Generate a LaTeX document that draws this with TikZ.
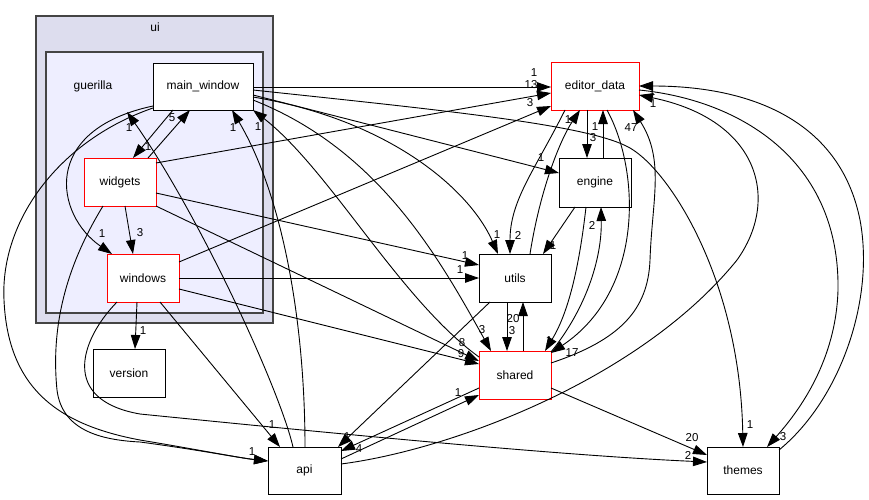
\documentclass[tikz,border=0pt]{standalone}
\usepackage{fontspec}
\setmainfont{Liberation Sans}
\usetikzlibrary{arrows.meta}
\definecolor{uifill}{HTML}{DDDDEE}
\definecolor{gufill}{HTML}{EEEEFF}
\definecolor{clborder}{HTML}{444444}
\begin{document}
\begin{tikzpicture}[x=1pt,y=-1pt,
  box/.style={draw=black,fill=white,line width=0.9pt,minimum width=72pt,minimum height=48pt,inner sep=0pt,font=\fontsize{12}{14}\selectfont},
  redbox/.style={box,draw=red},
  dep/.style={line width=0.9pt,-{Triangle[length=14pt,width=9.5pt]}},
  lbl/.style={font=\fontsize{11.5}{12}\selectfont,inner sep=0pt},
  cl/.style={draw=clborder,line width=1.3pt},
  cltext/.style={font=\fontsize{12}{14}\selectfont,inner sep=0pt}]
\useasboundingbox (0,0) rectangle (869,500);
\fill[white] (0,0) rectangle (869,500);
\draw[cl,fill=uifill] (36,16) rectangle (273,323);
\node[cltext] (uilbl) at (155,27) {ui};
\draw[cl,fill=gufill] (46,52) rectangle (263,313);
\node[cltext] (gulbl) at (93,86) {guerilla};
% nodes
\node[box,minimum width=100pt,minimum height=47pt] (mw) at (203,86.5) {main\_window};
\node[redbox] (wid) at (120,182) {widgets};
\node[redbox] (win) at (143,278) {windows};
\node[box] (ver) at (129,373) {version};
\node[redbox,minimum width=88pt] (ed) at (595,86) {editor\_data};
\node[box,minimum height=49pt] (eng) at (595,182.5) {engine};
\node[box] (ut) at (515,278) {utils};
\node[redbox] (sh) at (515,375) {shared};
\node[box,minimum width=73pt,minimum height=47pt] (api) at (304.5,470.5) {api};
\node[box,minimum height=47pt] (th) at (743,470.5) {themes};
\coordinate (gtip) at (127,112);
% edges into editor_data from the left
\draw[dep] ([shift={(50,0.5)}]mw.center) -- ([shift={(-44,1)}]ed.center) node[lbl] at (534,73) {1};
\draw[dep] ([shift={(36,-19)}]wid.center) -- ([shift={(-44,7)}]ed.center) node[lbl] at (531,85) {13};
\draw[dep] ([shift={(36,-16)}]win.center) -- ([shift={(-44,20)}]ed.center) node[lbl] at (530,103) {3};
% main_window out
\draw[dep] ([shift={(50,8.5)}]mw.center) -- ([shift={(-36,-9.5)}]eng.center) node[lbl] at (541,158) {1};
\draw[dep] ([shift={(50,10.5)}]mw.center) .. controls (390,120) and (470,190) .. ([shift={(-17,-24)}]ut.center) node[lbl] at (497,235) {1};
\draw[dep] ([shift={(50,13.5)}]mw.center) .. controls (380,150) and (440,260) .. ([shift={(-24,-24)}]sh.center) node[lbl] at (482,330) {3};
\draw[dep] ([shift={(50,3.5)}]mw.center) .. controls (450,111) and (590,125) .. (630,148) .. controls (670,171) and (740,280) .. ([shift={(0,-23.5)}]th.center) node[lbl] at (750,425) {1};
\draw[dep] ([shift={(-50,19.5)}]mw.center) .. controls (40,130) and (55,215) .. ([shift={(-31,-24)}]win.center) node[lbl] at (102,234) {1};
\draw[dep] ([shift={(-50,21.5)}]mw.center) .. controls (60,140) and (0,220) .. (4,300) .. controls (8,390) and (60,425) .. (140,440) .. controls (200,450) and (240,458) .. ([shift={(-36.5,-9.5)}]api.center) node[lbl] at (252,452) {1};
\draw[dep] ([shift={(-30,23.5)}]mw.center) -- ([shift={(13,-24)}]wid.center) node[lbl] at (148,147) {1};
% into main_window
\draw[dep] ([shift={(28,-24)}]wid.center) -- ([shift={(-13,23.5)}]mw.center) node[lbl] at (172,118) {5};
\draw[dep] ([shift={(-36,-18)}]sh.center) .. controls (400,300) and (330,170) .. ([shift={(50,23.5)}]mw.center) node[lbl] at (258,127) {1};
\draw[dep] ([shift={(0.5,-23.5)}]api.center) .. controls (305,330) and (285,200) .. ([shift={(29,23.5)}]mw.center) node[lbl] at (233,128) {1};
\draw[dep] ([shift={(-11.5,-23.5)}]api.center) .. controls (280,390) and (200,216) .. (gtip) node[lbl] at (129,128) {1};
% widgets out
\draw[dep] ([shift={(-17,24)}]wid.center) .. controls (70,260) and (50,320) .. (57,390) .. controls (62,430) and (100,440) .. (140,442) .. controls (200,450) and (240,458) .. ([shift={(-36.5,-9.5)}]api.center);
\draw[dep] ([shift={(5,24)}]wid.center) -- ([shift={(-10,-24)}]win.center) node[lbl] at (140,233) {3};
\draw[dep] ([shift={(36,11)}]wid.center) -- ([shift={(-36,-13)}]ut.center) node[lbl] at (465,256) {1};
\draw[dep] ([shift={(36,24)}]wid.center) -- ([shift={(-36,-14)}]sh.center) node[lbl] at (462,343) {8};
% windows out
\draw[dep] ([shift={(-26,24)}]win.center) .. controls (80,340) and (60,400) .. (140,414) .. controls (300,430) and (550,455) .. ([shift={(-36,-8.5)}]th.center) node[lbl] at (688,455) {2};
\draw[dep] ([shift={(-6,24)}]win.center) -- ([shift={(6,-24)}]ver.center) node[lbl] at (143,331) {1};
\draw[dep] ([shift={(17,24)}]win.center) -- ([shift={(-24.5,-23.5)}]api.center) node[lbl] at (272,425) {1};
\draw[dep] ([shift={(36,0)}]win.center) -- ([shift={(-36,0)}]ut.center) node[lbl] at (460,270) {1};
\draw[dep] ([shift={(36,11)}]win.center) -- ([shift={(-36,-11)}]sh.center) node[lbl] at (461,354) {9};
% editor_data / engine
\draw[dep] ([shift={(-8,24)}]ed.center) -- ([shift={(-8,-24.5)}]eng.center) node[lbl] at (593,138) {3};
\draw[dep] ([shift={(8,-24.5)}]eng.center) -- ([shift={(8,24)}]ed.center) node[lbl] at (595,127) {1};
\draw[dep] ([shift={(-30,24)}]ed.center) .. controls (535,170) and (510,200) .. ([shift={(-5,-24)}]ut.center) node[lbl] at (518,235) {2};
\draw[dep] ([shift={(15,-24)}]ut.center) .. controls (540,190) and (560,140) .. ([shift={(-15,24)}]ed.center) node[lbl] at (568,120) {1};
\draw[dep] ([shift={(-20,24.5)}]eng.center) -- ([shift={(28,-24)}]ut.center) node[lbl] at (553,246) {1};
\draw[dep] ([shift={(-9,24.5)}]eng.center) .. controls (580,260) and (570,310) .. ([shift={(30,-24)}]sh.center) node[lbl] at (549,341) {1};
\draw[dep] ([shift={(36,-23)}]sh.center) .. controls (585,310) and (602,260) .. ([shift={(6,24.5)}]eng.center) node[lbl] at (592,225) {2};
\draw[dep] ([shift={(12,24)}]ed.center) .. controls (640,170) and (645,290) .. ([shift={(36,-22)}]sh.center) node[lbl] at (572,353) {17};
\draw[dep] ([shift={(36,-12)}]sh.center) .. controls (620,340) and (648,310) .. (650,260) .. controls (652,200) and (665,160) .. ([shift={(38,24)}]ed.center) node[lbl] at (631,128) {47};
% shared / utils / api / themes
\draw[dep] ([shift={(36,13)}]sh.center) -- ([shift={(-36,-15.5)}]th.center) node[lbl] at (692,438) {20};
\draw[dep] ([shift={(-8,24)}]ut.center) -- ([shift={(-8,-24)}]sh.center) node[lbl] at (512,331) {3};
\draw[dep] ([shift={(8,-24)}]sh.center) -- ([shift={(8,24)}]ut.center) node[lbl] at (513,319) {20};
\draw[dep] ([shift={(-25,24)}]ut.center) -- ([shift={(33.5,-23.5)}]api.center) node[lbl] at (347,437) {1};
\draw[dep] ([shift={(-36,13)}]sh.center) -- ([shift={(36.5,-19.5)}]api.center) node[lbl] at (359,449) {4};
\draw[dep] ([shift={(36.5,-11.5)}]api.center) -- ([shift={(-36,20)}]sh.center) node[lbl] at (458,393) {1};
\draw[dep] ([shift={(36.5,-6.5)}]api.center) .. controls (450,450) and (640,380) .. (737,260) .. controls (780,200) and (760,120) .. ([shift={(44,9)}]ed.center) node[lbl] at (653,104) {1};
\draw[dep] ([shift={(36,-20.5)}]th.center) .. controls (840,400) and (875,300) .. (860,220) .. controls (840,120) and (750,86) .. ([shift={(44,0)}]ed.center) node[lbl] at (652,92) {1};
\draw[dep] ([shift={(44,4)}]ed.center) .. controls (740,100) and (840,160) .. (838,290) .. controls (836,360) and (800,410) .. ([shift={(24,-23.5)}]th.center) node[lbl] at (783,437) {3};
\end{tikzpicture}
\end{document}
